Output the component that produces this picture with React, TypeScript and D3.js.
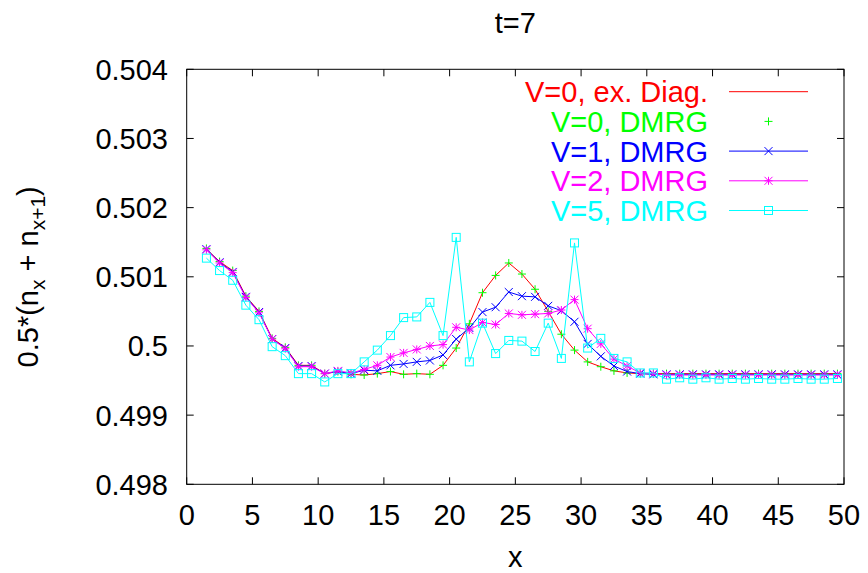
import React from "react";
import * as d3 from "d3";

const xs: number[] = d3.range(1.5, 50, 1);

const v0Exact: number[] = [
  0.50140, 0.50122, 0.50109, 0.50072, 0.50050, 0.50011, 0.49998, 0.49972, 0.49972, 0.49960,
  0.49963, 0.49959, 0.49958, 0.49960, 0.49963, 0.49959, 0.49960, 0.49959, 0.49972, 0.49997,
  0.50032, 0.50077, 0.50102, 0.50120, 0.50104, 0.50082, 0.50050, 0.50017, 0.49994, 0.49977,
  0.49970, 0.49964, 0.49961, 0.49960, 0.49960, 0.49960, 0.49960, 0.49960, 0.49960, 0.49960,
  0.49960, 0.49960, 0.49960, 0.49960, 0.49960, 0.49960, 0.49960, 0.49960, 0.49960,
];

const v0Dmrg: number[] = [
  0.50141, 0.50122, 0.50109, 0.50072, 0.50050, 0.50011, 0.49998, 0.49972, 0.49972, 0.49960,
  0.49963, 0.49959, 0.49958, 0.49960, 0.49963, 0.49959, 0.49960, 0.49959, 0.49972, 0.49997,
  0.50032, 0.50077, 0.50102, 0.50120, 0.50104, 0.50082, 0.50050, 0.50017, 0.49994, 0.49977,
  0.49970, 0.49964, 0.49961, 0.49960, 0.49960, 0.49960, 0.49960, 0.49960, 0.49960, 0.49960,
  0.49960, 0.49960, 0.49960, 0.49960, 0.49960, 0.49960, 0.49960, 0.49960, 0.49960,
];

const v1Dmrg: number[] = [
  0.50140, 0.50121, 0.50107, 0.50071, 0.50049, 0.50010, 0.49997, 0.49971, 0.49971, 0.49960,
  0.49963, 0.49960, 0.49965, 0.49964, 0.49972, 0.49974, 0.49977, 0.49979, 0.49987, 0.50010,
  0.50026, 0.50049, 0.50056, 0.50078, 0.50072, 0.50071, 0.50058, 0.50051, 0.50035, 0.50003,
  0.49985, 0.49971, 0.49963, 0.49960, 0.49959, 0.49959, 0.49959, 0.49959, 0.49959, 0.49959,
  0.49959, 0.49959, 0.49959, 0.49959, 0.49959, 0.49959, 0.49959, 0.49959, 0.49959,
];

const v2Dmrg: number[] = [
  0.50139, 0.50120, 0.50106, 0.50070, 0.50048, 0.50010, 0.49996, 0.49970, 0.49970, 0.49960,
  0.49964, 0.49961, 0.49966, 0.49972, 0.49984, 0.49990, 0.49995, 0.50000, 0.50002, 0.50027,
  0.50023, 0.50034, 0.50031, 0.50047, 0.50045, 0.50046, 0.50047, 0.50052, 0.50067, 0.50025,
  0.50003, 0.49981, 0.49971, 0.49961, 0.49960, 0.49958, 0.49958, 0.49958, 0.49958, 0.49958,
  0.49958, 0.49958, 0.49958, 0.49958, 0.49958, 0.49958, 0.49958, 0.49958, 0.49958,
];

const v5Dmrg: number[] = [
  0.50127, 0.50109, 0.50095, 0.50059, 0.50038, 0.49999, 0.49986, 0.49960, 0.49960, 0.49948,
  0.49960, 0.49960, 0.49977, 0.49994, 0.50015, 0.50041, 0.50042, 0.50063, 0.50015, 0.50157,
  0.49977, 0.50033, 0.49989, 0.50008, 0.50007, 0.49992, 0.50033, 0.49982, 0.50149, 0.49997,
  0.50011, 0.49982, 0.49977, 0.49961, 0.49961, 0.49952, 0.49954, 0.49952, 0.49954, 0.49952,
  0.49953, 0.49952, 0.49953, 0.49952, 0.49952, 0.49953, 0.49952, 0.49952, 0.49953,
];

const xTicks: number[] = [0, 5, 10, 15, 20, 25, 30, 35, 40, 45, 50];
const yTicks: number[] = [0.498, 0.499, 0.5, 0.501, 0.502, 0.503, 0.504];
const yTickLabels: string[] = ["0.498", "0.499", "0.5", "0.501", "0.502", "0.503", "0.504"];

const seriesNames: string[] = ["V=0, ex. Diag.", "V=0, DMRG", "V=1, DMRG", "V=2, DMRG", "V=5, DMRG"];
const seriesColors: string[] = ["#ff0000", "#00ff00", "#0000ff", "#ff00ff", "#00ffff"];
const seriesMarkers: string[] = ["none", "plus", "cross", "star", "box"];
const seriesLines: boolean[] = [true, false, true, true, true];
const seriesValues: number[][] = [v0Exact, v0Dmrg, v1Dmrg, v2Dmrg, v5Dmrg];

const W = 868;
const H = 573;
const L = 186.7, R = 844, T = 69.3, B = 484.3;
const FONT = "'Liberation Sans', Arial, sans-serif";
const FS = 29;

function Marker({ type, x, y, color }: { type: string; x: number; y: number; color: string }) {
  const s = 4;
  if (type === "plus")
    return <path d={`M${x - s},${y}H${x + s}M${x},${y - s}V${y + s}`} stroke={color} strokeWidth={1} fill="none" />;
  if (type === "cross")
    return <path d={`M${x - s},${y - s}L${x + s},${y + s}M${x - s},${y + s}L${x + s},${y - s}`} stroke={color} strokeWidth={1} fill="none" />;
  if (type === "star")
    return (
      <path
        d={`M${x - s},${y}H${x + s}M${x},${y - s}V${y + s}M${x - s},${y - s}L${x + s},${y + s}M${x - s},${y + s}L${x + s},${y - s}`}
        stroke={color}
        strokeWidth={1}
        fill="none"
      />
    );
  if (type === "box")
    return <rect x={x - s} y={y - s} width={2 * s} height={2 * s} stroke={color} strokeWidth={1} fill="none" />;
  return null;
}

export default function App() {
  const x = d3.scaleLinear().domain([0, 50]).range([L, R]);
  const y = d3.scaleLinear().domain([0.498, 0.504]).range([B, T]);
  const line = d3
    .line<[number, number]>()
    .x((d) => x(d[0]))
    .y((d) => y(d[1]));

  const legendTextX = 708;
  const legendLineX0 = 729;
  const legendLineX1 = 808;
  const legendRowY0 = 91.7;
  const legendDy = 29.7;

  return (
    <svg width={W} height={H} style={{ position: "absolute", left: 0, top: 0, background: "#fff" }} fontFamily={FONT}>
      <rect x={0} y={0} width={W} height={H} fill="#fff" />
      {/* frame */}
      <rect x={L} y={T} width={R - L} height={B - T} fill="none" stroke="#000" strokeWidth={1} />
      {/* x ticks */}
      {xTicks.map((t) => (
        <g key={"xt" + t}>
          <line x1={x(t)} x2={x(t)} y1={B} y2={B - 7} stroke="#000" />
          <line x1={x(t)} x2={x(t)} y1={T} y2={T + 7} stroke="#000" />
          <text x={x(t)} y={525} textAnchor="middle" fontSize={FS} fill="#000">
            {t}
          </text>
        </g>
      ))}
      {/* y ticks */}
      {yTicks.map((t, i) => (
        <g key={"yt" + t}>
          <line x1={L} x2={L + 7} y1={y(t)} y2={y(t)} stroke="#000" />
          <line x1={R} x2={R - 7} y1={y(t)} y2={y(t)} stroke="#000" />
          <text x={168} y={y(t)} dy="0.36em" textAnchor="end" fontSize={FS} fill="#000">
            {yTickLabels[i]}
          </text>
        </g>
      ))}
      {/* title */}
      <text x={(L + R) / 2} y={33} textAnchor="middle" fontSize={FS} fill="#000">
        t=7
      </text>
      {/* x label */}
      <text x={(L + R) / 2} y={567} textAnchor="middle" fontSize={FS} fill="#000">
        x
      </text>
      {/* y label */}
      <text
        transform={`translate(38, ${(T + B) / 2}) rotate(-90)`}
        textAnchor="middle"
        fontSize={FS}
        fill="#000"
      >
        0.5*(n<tspan fontSize={21} dy={7}>x</tspan>
        <tspan dy={-7}> + n</tspan>
        <tspan fontSize={21} dy={7}>x+1</tspan>
        <tspan dy={-7}>)</tspan>
      </text>
      {/* series */}
      {seriesValues.map((vals, si) => {
        const pts: [number, number][] = xs.map((xv, i) => [xv, vals[i]]);
        const color = seriesColors[si];
        return (
          <g key={"s" + si}>
            {seriesLines[si] && <path d={line(pts) || ""} fill="none" stroke={color} strokeWidth={1} />}
            {seriesMarkers[si] !== "none" &&
              pts.map((p, i) => <Marker key={i} type={seriesMarkers[si]} x={x(p[0])} y={y(p[1])} color={color} />)}
          </g>
        );
      })}
      {/* legend */}
      {seriesNames.map((name, si) => {
        const ly = legendRowY0 + si * legendDy;
        const color = seriesColors[si];
        return (
          <g key={"lg" + si}>
            <text x={legendTextX} y={ly} dy="0.36em" textAnchor="end" fontSize={FS} fill={color}>
              {name}
            </text>
            {seriesLines[si] && <line x1={legendLineX0} x2={legendLineX1} y1={ly} y2={ly} stroke={color} strokeWidth={1} />}
            {seriesMarkers[si] !== "none" && (
              <Marker type={seriesMarkers[si]} x={(legendLineX0 + legendLineX1) / 2} y={ly} color={color} />
            )}
          </g>
        );
      })}
    </svg>
  );
}
